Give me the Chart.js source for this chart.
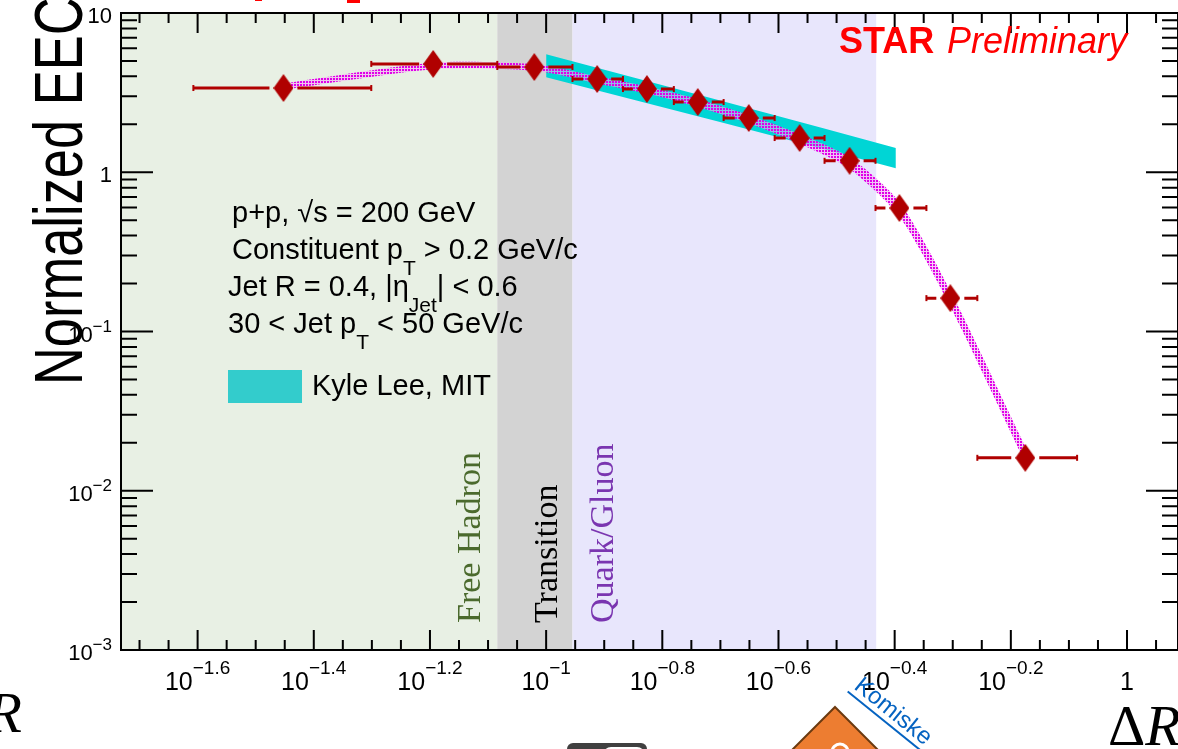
<!DOCTYPE html>
<html>
<head>
<meta charset="utf-8">
<script src="https://cdn.jsdelivr.net/npm/chart.js@4/dist/chart.umd.min.js"></script>
<style>
  html, body { margin: 0; padding: 0; background: #fff; overflow: hidden; }
  canvas { display: block; }
</style>
</head>
<body>
<canvas id="eecChart" width="1178" height="749"></canvas>
<script>
// STAR points: bin centre in Delta R, normalized EEC, bin edges
const deltaR  = [0.0353, 0.0639, 0.0954, 0.1224, 0.1491, 0.1824, 0.2233, 0.2732, 0.3330, 0.4057, 0.4964, 0.6681];
const eec     = [3.38, 4.79, 4.58, 3.85, 3.33, 2.76, 2.19, 1.64, 1.18, 0.596, 0.162, 0.0161];
const binLow  = [0.0247, 0.0500, 0.0824, 0.1110, 0.1356, 0.1659, 0.2021, 0.2474, 0.3015, 0.3690, 0.4515, 0.5525];
const binHigh = [0.0500, 0.0824, 0.1110, 0.1356, 0.1659, 0.2021, 0.2474, 0.3015, 0.3690, 0.4515, 0.5525, 0.8205];

// magenta dotted band (MC), same Delta R points
const mcLow  = [3.30, 4.44, 4.35, 3.61, 3.12, 2.57, 2.03, 1.51, 1.05, 0.527, 0.143, 0.0150];
const mcHigh = [3.61, 4.87, 4.76, 4.00, 3.45, 2.88, 2.28, 1.74, 1.24, 0.649, 0.180, 0.0189];

// Kyle Lee, MIT calculation
const theoryR    = [0.1, 0.2, 0.3, 0.4];
const theoryLow  = [3.95, 2.06, 1.40, 1.06];
const theoryHigh = [5.50, 2.81, 1.89, 1.42];

// shaded regions
const regionNames = ['Free Hadron', 'Transition', 'Quark/Gluon'];
const regionFrom  = [0.0185, 0.0824, 0.111];
const regionTo    = [0.0824, 0.111, 0.370];

// axis ticks
const xTickValues = [0.02512, 0.03981, 0.06310, 0.1, 0.1585, 0.2512, 0.3981, 0.6310, 1];
const xTickBase   = ['10', '10', '10', '10', '10', '10', '10', '10', '1'];
const xTickSup    = ['\u22121.6', '\u22121.4', '\u22121.2', '\u22121', '\u22120.8', '\u22120.6', '\u22120.4', '\u22120.2', ''];
const yTickValues = [0.001, 0.01, 0.1, 1, 10];
const yTickBase   = ['10', '10', '10', '1', '10'];
const yTickSup    = ['\u22123', '\u22122', '\u22121', '', ''];

const regionColors = ['#e8f0e4', '#d3d3d3', '#e8e6fc'];
const regionTextColors = ['#4b6a2d', '#000000', '#7a35b0'];
const regionTextX = [480, 557, 613];
const RED = '#b00000';
const SANS = '"Liberation Sans", Arial, sans-serif';
const SERIF = '"Liberation Serif", "Times New Roman", serif';

const canvas = document.getElementById('eecChart');
const ctx = canvas.getContext('2d');

// elongated diamond marker
const diamond = document.createElement('canvas');
diamond.width = 20; diamond.height = 28;
const dctx = diamond.getContext('2d');
dctx.fillStyle = RED;
dctx.beginPath();
dctx.moveTo(10, 0); dctx.lineTo(20, 14); dctx.lineTo(10, 28); dctx.lineTo(0, 14);
dctx.closePath(); dctx.fill();

// dotted fill pattern for MC band
const tile = document.createElement('canvas');
tile.width = 3; tile.height = 3;
const tctx = tile.getContext('2d');
tctx.fillStyle = 'rgba(242,170,242,0.6)'; tctx.fillRect(0, 0, 3, 3);
tctx.fillStyle = '#e000e8'; tctx.fillRect(0, 0, 2, 2);
const mcPattern = ctx.createPattern(tile, 'repeat');

function supText(c, base, sup, x, y, baseFont, supFont, rise, align) {
  c.font = baseFont; const wb = c.measureText(base).width;
  c.font = supFont; const ws = sup ? c.measureText(sup).width : 0;
  let x0 = x;
  if (align === 'center') x0 = x - (wb + ws) / 2;
  if (align === 'right') x0 = x - wb - ws;
  c.textAlign = 'left'; c.textBaseline = 'alphabetic';
  c.font = baseFont; c.fillText(base, x0, y);
  if (sup) { c.font = supFont; c.fillText(sup, x0 + wb, y - rise); }
}

function richText(c, parts, x, y, size) {
  let cx = x;
  c.textAlign = 'left'; c.textBaseline = 'alphabetic';
  parts.forEach(p => {
    c.font = (p.sub ? Math.round(size * 0.72) : size) + 'px ' + SANS;
    c.fillText(p.t, cx, p.sub ? y + 16 : y);
    cx += c.measureText(p.t).width;
  });
}

const decorations = {
  id: 'decorations',
  beforeDatasetsDraw(chart) {
    const c = chart.ctx, a = chart.chartArea, xs = chart.scales.x;
    c.save();
    regionNames.forEach((name, i) => {
      const x0 = Math.max(a.left, xs.getPixelForValue(regionFrom[i]));
      const x1 = xs.getPixelForValue(regionTo[i]);
      c.fillStyle = regionColors[i];
      c.fillRect(x0, a.top, x1 - x0, a.bottom - a.top);
    });
    regionNames.forEach((name, i) => {
      c.save();
      c.translate(regionTextX[i], 623);
      c.rotate(-Math.PI / 2);
      c.font = '34px ' + SERIF;
      c.fillStyle = regionTextColors[i];
      c.textAlign = 'left'; c.textBaseline = 'alphabetic';
      c.fillText(name, 0, 0);
      c.restore();
    });
    c.restore();
  },
  beforeDatasetDraw(chart, args) {
    if (args.index !== 0) return;
    const c = chart.ctx, xs = chart.scales.x, ys = chart.scales.y;
    c.save();
    c.strokeStyle = RED; c.fillStyle = RED; c.lineWidth = 3;
    deltaR.forEach((r, i) => {
      const y = ys.getPixelForValue(eec[i]);
      const xc = xs.getPixelForValue(r);
      const xl = xs.getPixelForValue(binLow[i]);
      const xh = xs.getPixelForValue(binHigh[i]);
      const gap = 14;
      c.beginPath();
      if (xc - gap > xl) { c.moveTo(xl, y); c.lineTo(xc - gap, y); }
      if (xh > xc + gap) { c.moveTo(xc + gap, y); c.lineTo(xh, y); }
      c.stroke();
      c.fillRect(xl - 1, y - 3, 2, 6);
      c.fillRect(xh - 1, y - 3, 2, 6);
    });
    c.restore();
  },
  afterDatasetsDraw(chart) {
    const c = chart.ctx, a = chart.chartArea, xs = chart.scales.x, ys = chart.scales.y;
    c.save();
    // frame
    c.strokeStyle = '#000'; c.lineWidth = 2;
    c.strokeRect(a.left, a.top, a.right - a.left, a.bottom - a.top);
    // y ticks, left and right
    c.beginPath();
    for (let d = -3; d <= 1; d++) {
      for (let m = 1; m <= 9; m++) {
        const v = m * Math.pow(10, d);
        if (v > 10.0001) break;
        const y = ys.getPixelForValue(v);
        const len = m === 1 ? 32 : 16;
        c.moveTo(a.left, y); c.lineTo(a.left + len, y);
        c.moveTo(a.right, y); c.lineTo(a.right - len, y);
      }
    }
    // x ticks, every 0.05 decade, major every 0.2
    for (let k = -35; k <= 1; k++) {
      const e = k * 0.05;
      const v = Math.pow(10, e);
      if (v < xs.min || v > xs.max) continue;
      const x = xs.getPixelForValue(v);
      const len = (k % 4 === 0) ? 20 : 10;
      c.moveTo(x, a.bottom); c.lineTo(x, a.bottom - len);
      c.moveTo(x, a.top); c.lineTo(x, a.top + len);
    }
    c.stroke();
    // tick labels
    c.fillStyle = '#000';
    xTickValues.forEach((v, i) => {
      supText(c, xTickBase[i], xTickSup[i], xs.getPixelForValue(v), 690,
        '25px ' + SANS, '19px ' + SANS, 16, 'center');
    });
    yTickValues.forEach((v, i) => {
      supText(c, yTickBase[i], yTickSup[i], 112, ys.getPixelForValue(v) + 10,
        '22px ' + SANS, '17px ' + SANS, 10, 'right');
    });
    // annotations
    c.fillStyle = '#000';
    richText(c, [{ t: 'p+p, \u221As = 200 GeV' }], 232, 222, 29);
    richText(c, [{ t: 'Constituent p' }, { t: 'T', sub: true }, { t: ' > 0.2 GeV/c' }], 232, 259, 29);
    richText(c, [{ t: 'Jet R = 0.4, |\u03B7' }, { t: 'Jet', sub: true }, { t: '| < 0.6' }], 228, 296, 29);
    richText(c, [{ t: '30 < Jet p' }, { t: 'T', sub: true }, { t: ' < 50 GeV/c' }], 228, 333, 29);
    c.fillStyle = '#33cccc';
    c.fillRect(228, 370, 74, 33);
    c.fillStyle = '#000';
    richText(c, [{ t: 'Kyle Lee, MIT' }], 312, 395, 29);
    // STAR Preliminary
    c.fillStyle = '#ff0000';
    c.font = 'bold 36px ' + SANS;
    c.fillText('STAR', 839, 53);
    c.font = 'italic 36px ' + SANS;
    c.fillText('Preliminary', 947, 53);
    c.restore();
  },
  afterDraw(chart) {
    const c = chart.ctx;
    c.save();
    // y axis title, narrow face
    c.translate(82, 385);
    c.rotate(-Math.PI / 2);
    c.scale(0.76, 1);
    c.fillStyle = '#000';
    c.font = '69px ' + SANS;
    c.textAlign = 'left'; c.textBaseline = 'alphabetic';
    c.fillText('Normalized EEC', 0, 0);
    c.restore();
    c.save();
    // slide fragments around the plot
    c.fillStyle = '#000';
    c.font = 'italic 58px ' + SERIF;
    c.textAlign = 'right';
    c.fillText('R', 22, 732);
    c.textAlign = 'left';
    c.font = '58px ' + SERIF;
    c.fillText('\u0394', 1108, 745);
    const dw = c.measureText('\u0394').width;
    c.font = 'italic 58px ' + SERIF;
    c.fillText('R', 1108 + dw, 745);
    c.fillStyle = '#ff0000';
    c.fillRect(347, 0, 13, 3);
    c.fillRect(255, 0, 7, 1);
    // orange diamond
    c.beginPath();
    c.moveTo(835, 707); c.lineTo(885, 757); c.lineTo(835, 807); c.lineTo(785, 757);
    c.closePath();
    c.fillStyle = '#ed7d31'; c.fill();
    c.strokeStyle = '#6b3a10'; c.lineWidth = 2; c.stroke();
    c.beginPath();
    c.arc(840, 752, 8, 0, Math.PI * 2);
    c.strokeStyle = '#fff'; c.lineWidth = 3; c.stroke();
    // Komisk link text
    c.save();
    c.translate(853, 688);
    c.rotate(0.68);
    c.fillStyle = '#0563c1';
    c.font = '24px ' + SANS;
    c.fillText('Komiske', 0, 0);
    c.fillRect(-2, 5, 120, 2);
    c.restore();
    // dark rounded shape
    c.fillStyle = '#404040';
    c.beginPath(); c.roundRect(567, 743, 80, 20, 6); c.fill();
    c.fillStyle = '#fff';
    c.beginPath(); c.roundRect(603, 747, 42, 20, 8); c.fill();
    c.restore();
  }
};

new Chart(canvas, {
  type: 'line',
  data: {
    datasets: [
      {
        label: 'STAR',
        data: deltaR.map((r, i) => ({ x: r, y: eec[i] })),
        showLine: false,
        pointStyle: diamond,
        pointRadius: 10,
        order: 0
      },
      {
        label: 'MC high',
        data: deltaR.map((r, i) => ({ x: r, y: mcHigh[i] })),
        borderWidth: 0,
        pointRadius: 0,
        backgroundColor: mcPattern,
        fill: '+1',
        tension: 0.25,
        order: 1
      },
      {
        label: 'MC low',
        data: deltaR.map((r, i) => ({ x: r, y: mcLow[i] })),
        borderWidth: 0,
        pointRadius: 0,
        fill: false,
        tension: 0.25,
        order: 2
      },
      {
        label: 'Kyle Lee, MIT',
        data: theoryR.map((r, i) => ({ x: r, y: theoryHigh[i] })),
        borderWidth: 0,
        pointRadius: 0,
        backgroundColor: '#00d5d5',
        fill: '+1',
        order: 3
      },
      {
        label: 'theory low',
        data: theoryR.map((r, i) => ({ x: r, y: theoryLow[i] })),
        borderWidth: 0,
        pointRadius: 0,
        fill: false,
        order: 4
      }
    ]
  },
  options: {
    responsive: false,
    animation: false,
    events: [],
    layout: { autoPadding: false, padding: { left: 121, top: 13, right: -2, bottom: 99 } },
    plugins: { legend: { display: false }, tooltip: { enabled: false } },
    scales: {
      x: { type: 'logarithmic', min: 0.01854, max: 1.224, display: false },
      y: { type: 'logarithmic', min: 0.001, max: 10, display: false }
    }
  },
  plugins: [decorations]
});
</script>
</body>
</html>
